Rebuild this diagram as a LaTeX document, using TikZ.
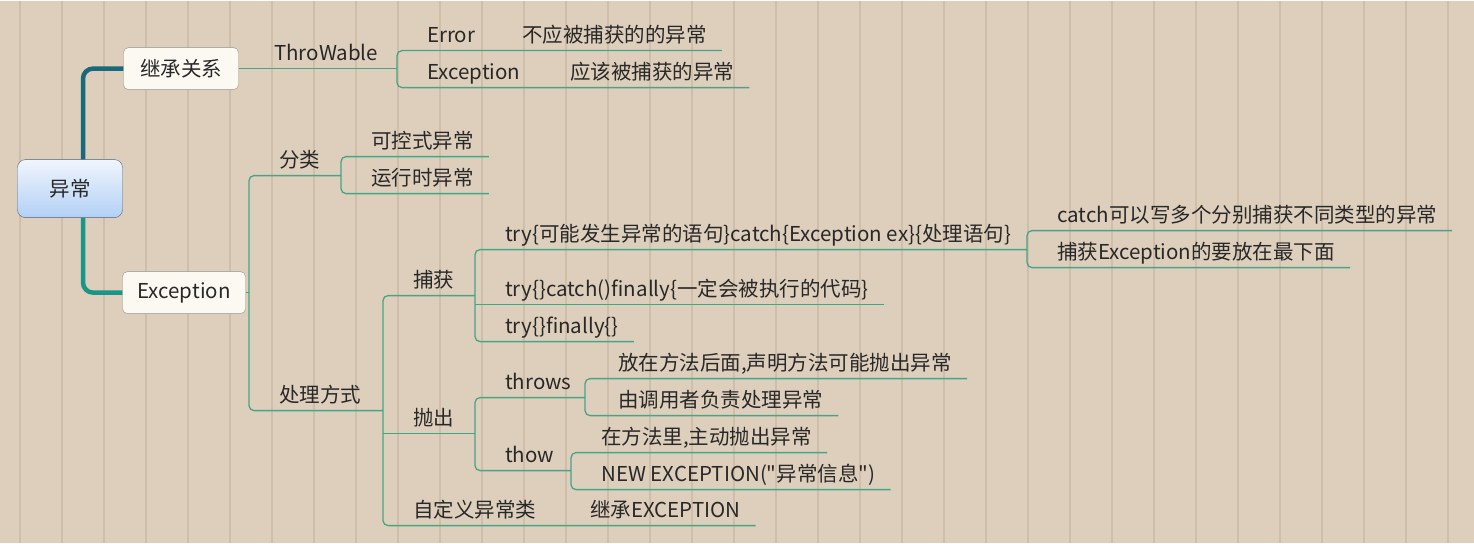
\documentclass[tikz,border=0pt]{standalone}
\usepackage{fontspec}
\setmainfont{Noto Sans CJK SC}[Ligatures=TeXOff]
\definecolor{wood}{RGB}{221,207,188}
\definecolor{plank}{RGB}{196,180,158}
\definecolor{link}{RGB}{70,165,135}
\definecolor{branchA}{RGB}{25,105,125}
\definecolor{branchB}{RGB}{25,150,135}
\definecolor{ink}{RGB}{40,40,40}
\begin{document}
\begin{tikzpicture}
  [x=1pt,y=-1pt,
   every node/.style={font=\fontsize{20.5}{24}\selectfont,text=ink},
   topic/.style={anchor=south west,inner xsep=15pt,inner ysep=4pt,text height=15pt,text depth=4pt},
   rootbox/.style={draw={rgb,255:red,80;green,95;blue,120},rounded corners=8pt,
     top color={rgb,255:red,240;green,245;blue,253},bottom color={rgb,255:red,178;green,208;blue,245},
     minimum width=105pt,minimum height=58pt},
   subbox/.style={draw={rgb,255:red,150;green,148;blue,140},fill={rgb,255:red,252;green,249;blue,243},
     rounded corners=5pt,minimum height=42pt},
   branch/.style={line width=4.5pt,rounded corners=10pt},
   link/.style={draw=link,line width=1.3pt}]

  % wooden background
  \fill[wood] (0,0) rectangle (1474,542);
  \foreach \x in {20,62,...,1460}
    \draw[plank,line width=1.2pt,opacity=.6] (\x,0) -- (\x,542);

  \node[rootbox] (root) at (70,188) {异常};
  \node[subbox,minimum width=115pt] (inherit) at (181,68) {继承关系};
  \node[subbox,minimum width=123pt] (exc) at (184,292) {Exception};

  \draw[branch,branchA] ([xshift=13pt]root.north) |- (inherit.west);
  \draw[branch,branchB] ([xshift=13pt]root.south) |- (exc.west);

  \coordinate (j1) at (397,68);
  \coordinate (j2) at (249,292);
  \coordinate (j3) at (341,175);
  \coordinate (j4) at (383,410);
  \coordinate (j5) at (475,295);
  \coordinate (j6) at (1027,249);
  \coordinate (j7) at (475,433);
  \coordinate (j8) at (585,397);
  \coordinate (j9) at (571,470);

  % 继承关系
  \node[topic] (throw) at (259,68) {ThroWable};
  \node[topic] (err) at (412,50) {Error};
  \node[topic] (errwhy) at (507,50) {不应被捕获的的异常};
  \node[topic] (excd) at (412,87) {Exception};
  \node[topic] (excdwhy) at (555,87) {应该被捕获的异常};

  \draw[link] (inherit.east) -- (j1);
  \draw[link,rounded corners=5pt] (errwhy.south east) -- (err.south west -| j1) -- (excd.south west -| j1) -- (excdwhy.south east);

  % Exception
  \node[topic] (cls) at (264,175) {分类};
  \node[topic] (handle) at (264,410) {处理方式};
  \node[topic] (ctrl) at (356,156) {可控式异常};
  \node[topic] (runtime) at (356,193) {运行时异常};

  \draw[link] (exc.east) -- (j2);
  \draw[link,rounded corners=5pt] (j3) -- (cls.south west -| j2) -- (handle.south west -| j2) -- (j4);
  \draw[link,rounded corners=5pt] (ctrl.south east) -- (ctrl.south west -| j3) -- (runtime.south west -| j3) -- (runtime.south east);

  % 处理方式
  \node[topic] (catchn) at (398,295) {捕获};
  \node[topic] (throwout) at (398,433) {抛出};
  \node[topic] (custom) at (398,525) {自定义异常类};
  \node[topic] (inheritexc) at (575,525) {继承EXCEPTION};

  \draw[link,rounded corners=5pt] (j5) -- (catchn.south west -| j4) -- (custom.south west -| j4) -- (inheritexc.south east);
  \draw[link] (throwout.south west -| j4) -- (j7);

  % 捕获
  \node[topic] (try1) at (490,249) {try\{可能发生异常的语句\}catch\{Exception ex\}\{处理语句\}};
  \node[topic] (try2) at (490,304) {try\{\}catch()finally\{一定会被执行的代码\}};
  \node[topic] (try3) at (490,341) {try\{\}finally\{\}};
  \node[topic] (multi) at (1042,230) {catch可以写多个分别捕获不同类型的异常};
  \node[topic] (last) at (1042,267) {捕获Exception的要放在最下面};

  \draw[link,rounded corners=5pt] (j6) -- (try1.south west -| j5) -- (try3.south west -| j5) -- (try3.south east);
  \draw[link] (try2.south west -| j5) -- (try2.south east);
  \draw[link,rounded corners=5pt] (multi.south east) -- (multi.south west -| j6) -- (last.south west -| j6) -- (last.south east);

  % 抛出
  \node[topic] (throws) at (490,397) {throws};
  \node[topic] (thow) at (490,470) {thow};
  \node[topic] (after) at (603,378) {放在方法后面,声明方法可能抛出异常};
  \node[topic] (caller) at (603,415) {由调用者负责处理异常};
  \node[topic] (inm) at (586,452) {在方法里,主动抛出异常};
  \node[topic] (newe) at (586,489) {NEW EXCEPTION("异常信息")};

  \draw[link,rounded corners=5pt] (j8) -- (throws.south west -| j7) -- (thow.south west -| j7) -- (j9);
  \draw[link,rounded corners=5pt] (after.south east) -- (after.south west -| j8) -- (caller.south west -| j8) -- (caller.south east);
  \draw[link,rounded corners=5pt] (inm.south east) -- (inm.south west -| j9) -- (newe.south west -| j9) -- (newe.south east);

\end{tikzpicture}
\end{document}
